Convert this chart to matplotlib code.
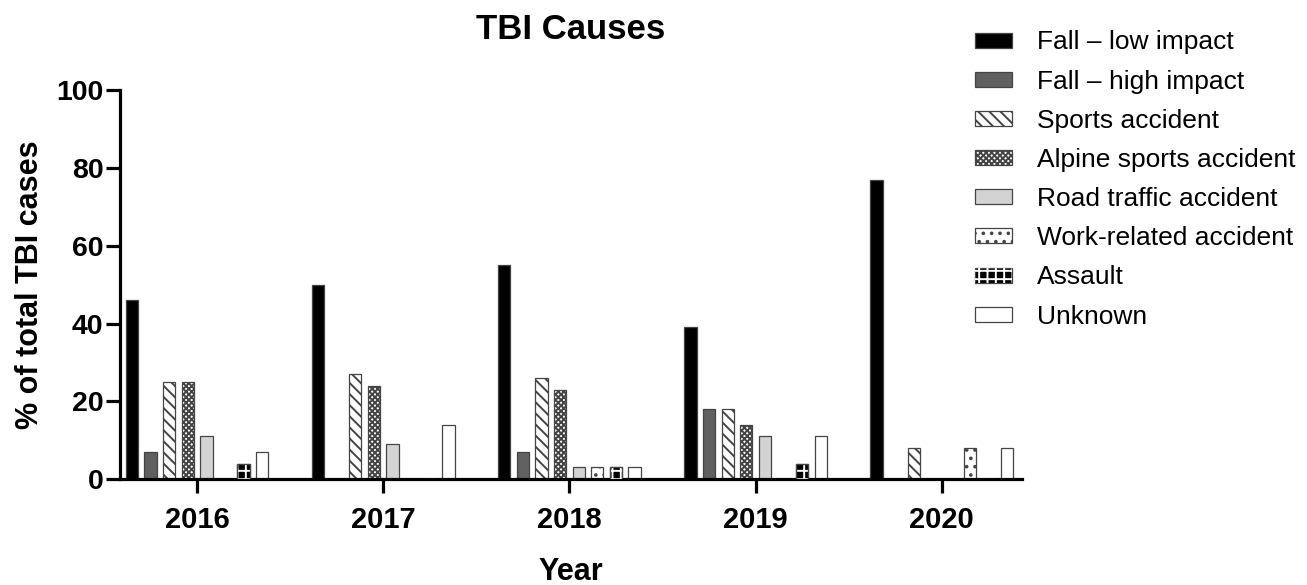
import matplotlib
matplotlib.use("Agg")
import matplotlib.pyplot as plt
import numpy as np
from matplotlib.patches import Patch

plt.rcParams['font.family'] = ['Liberation Sans', 'DejaVu Sans']
plt.rcParams['hatch.linewidth'] = 1.4

years = ["2016", "2017", "2018", "2019", "2020"]
categories = ["Fall \u2013 low impact", "Fall \u2013 high impact", "Sports accident",
              "Alpine sports accident", "Road traffic accident", "Work-related accident",
              "Assault", "Unknown"]
fall_low = [46, 50, 55, 39, 77]
fall_high = [7, 0, 7, 18, 0]
sports = [25, 27, 26, 18, 8]
alpine = [25, 24, 23, 14, 0]
road = [11, 9, 3, 11, 0]
work = [0, 0, 3, 0, 8]
assault = [4, 0, 3, 4, 0]
unknown = [7, 14, 3, 11, 8]
series = [fall_low, fall_high, sports, alpine, road, work, assault, unknown]

styles = [
    dict(facecolor="black", hatch=None),
    dict(facecolor="#606060", hatch=None),
    dict(facecolor="white", hatch="\\\\\\"),
    dict(facecolor="white", hatch="xxxxxx"),
    dict(facecolor="#d3d3d3", hatch=None),
    dict(facecolor="white", hatch=".."),
    dict(facecolor="black", hatch=None),  # assault, overlay added
    dict(facecolor="white", hatch=None),
]

fig = plt.figure(figsize=(13.07, 5.85), dpi=100)
ax = fig.add_axes([0.0918, 0.181, 0.690, 0.665])

x = np.arange(len(years))
pitch = 0.1
width = 0.066
handles = []
for j, (vals, st) in enumerate(zip(series, styles)):
    pos = x + (j - 3.5) * pitch
    ax.bar(pos, vals, width=width, color=st["facecolor"], edgecolor="#444444",
           linewidth=0.9, hatch=st["hatch"], zorder=2)
    if j == 6:
        ax.bar(pos, vals, width=width, fill=False, edgecolor="white",
               linewidth=0, hatch="++", zorder=3)
        ax.bar(pos, vals, width=width, fill=False, edgecolor="#444444",
               linewidth=0.9, zorder=4)
        h = (Patch(facecolor="black", edgecolor="#444444", linewidth=0.9),
             Patch(fill=False, edgecolor="white", linewidth=0, hatch="++"))
    else:
        h = Patch(facecolor=st["facecolor"], edgecolor="#444444", linewidth=0.9,
                  hatch=st["hatch"])
    handles.append(h)

ax.set_xlim(-0.414, 4.43)
ax.set_ylim(0, 100)
ax.set_yticks([0, 20, 40, 60, 80, 100])
ax.set_xticks(x)
ax.set_xticklabels(years)
for s in ["top", "right"]:
    ax.spines[s].set_visible(False)
for s in ["left", "bottom"]:
    ax.spines[s].set_linewidth(2.3)
ax.tick_params(axis="y", width=2.3, length=10, labelsize=20.5, pad=2)
ax.tick_params(axis="x", width=2.3, length=10, labelsize=21, pad=9)
for lab in ax.get_xticklabels() + ax.get_yticklabels():
    lab.set_fontweight("bold")

ax.set_title("TBI Causes", fontsize=25, fontweight="bold", pad=37)
ax.set_xlabel("Year", fontsize=22, fontweight="bold", labelpad=17)
ax.set_ylabel("% of total TBI cases", fontsize=22, fontweight="bold", labelpad=8)

fig.legend(handles, categories, loc="upper left", bbox_to_anchor=(0.746, 0.948),
           frameon=False, fontsize=19, handlelength=1.4, handleheight=0.5,
           labelspacing=0.575, handletextpad=0.95, borderpad=0, borderaxespad=0)

fig.savefig("out.png", dpi=100)
